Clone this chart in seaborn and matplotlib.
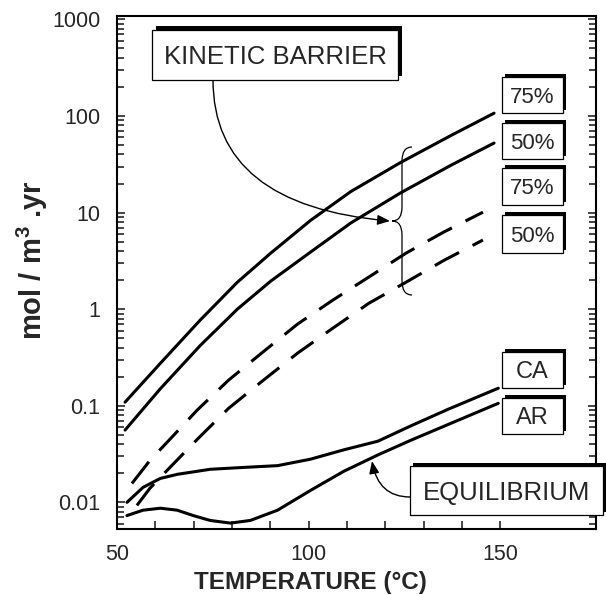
import matplotlib
matplotlib.use("Agg")
import numpy as np
import pandas as pd
import seaborn as sns
import matplotlib.pyplot as plt
from matplotlib.patches import Rectangle, PathPatch
from matplotlib.path import Path
from matplotlib.ticker import FixedLocator, FixedFormatter, LogLocator, NullFormatter

# ---------------- data ----------------
temp_kin_solid = [52.1, 61.3, 71.7, 81.4, 90.1, 100.5, 111.0, 124.0, 137.2, 148.4]
rate_kin_75 = [0.109, 0.275, 0.77, 1.9, 3.8, 8.3, 16.5, 33.0, 63.0, 107.0]
rate_kin_50 = [0.056, 0.15, 0.42, 1.0, 1.95, 3.9, 7.8, 16.0, 31.0, 52.5]

temp_dash_75 = [53.9, 58.6, 63.1, 70.9, 79.1, 88.0, 97.1, 106.3, 115.7, 125.4, 135.3, 145.5]
rate_dash_75 = [0.0157, 0.0272, 0.042, 0.09, 0.184, 0.358, 0.70, 1.24, 2.15, 3.8, 6.3, 10.1]
temp_dash_50 = [55.2, 58.6, 63.1, 71.2, 79.1, 88.2, 97.1, 106.3, 115.7, 125.4, 135.3, 145.5]
rate_dash_50 = [0.0093, 0.014, 0.0215, 0.046, 0.094, 0.184, 0.35, 0.635, 1.15, 1.9, 3.2, 5.2]

temp_ca = [52.6, 56.8, 61.3, 65.7, 74.3, 83.0, 91.9, 100.5, 109.2, 118.1, 126.7, 136.4, 149.5]
rate_ca = [0.0100, 0.0143, 0.0177, 0.0195, 0.022, 0.023, 0.024, 0.028, 0.0350, 0.043, 0.062, 0.092, 0.152]
temp_ar = [52.6, 56.8, 61.3, 65.7, 69.9, 74.3, 79.6, 84.8, 91.9, 100.5, 109.2, 118.1, 126.7, 136.4, 149.5]
rate_ar = [0.0073, 0.0083, 0.0087, 0.0083, 0.0073, 0.0065, 0.0061, 0.0065, 0.0083, 0.0133,
           0.0210, 0.031, 0.044, 0.064, 0.106]

y_tick_values = [0.01, 0.1, 1, 10, 100, 1000]
y_tick_labels = ["0.01", "0.1", "1", "10", "100", "1000"]
x_tick_values = [50, 100, 150]
x_tick_labels = ["50", "100", "150"]
x_minor_values = [60, 70, 80, 90, 110, 120, 130, 140]

series_labels = ["75%", "50%", "75%", "50%"]
eq_labels = ["CA", "AR"]

# ---------------- style ----------------
sns.set_style("white")
plt.rcParams["font.family"] = ["Liberation Sans", "DejaVu Sans"]
plt.rcParams["mathtext.fontset"] = "custom"
plt.rcParams["mathtext.rm"] = "Liberation Sans"
plt.rcParams["mathtext.bf"] = "Liberation Sans:bold"

W, H = 606, 595
fig = plt.figure(figsize=(W / 100, H / 100), dpi=100)
ax = fig.add_axes([117 / W, 1 - 529 / H, (596 - 117) / W, (529 - 16) / H])

solid = "-"
dashed = (0, (9, 5))
series = [
    (temp_kin_solid, rate_kin_75, solid),
    (temp_kin_solid, rate_kin_50, solid),
    (temp_dash_75, rate_dash_75, dashed),
    (temp_dash_50, rate_dash_50, dashed),
    (temp_ca, rate_ca, solid),
    (temp_ar, rate_ar, solid),
]
for t, r, ls in series:
    df = pd.DataFrame({"T": t, "rate": r})
    sns.lineplot(data=df, x="T", y="rate", ax=ax, color="black", lw=2.2,
                 linestyle=ls, estimator=None, legend=False)

ax.set_yscale("log")
ax.set_xlim(50, 175)
ax.set_ylim(0.0053, 1085)

ax.yaxis.set_major_locator(FixedLocator(y_tick_values))
ax.yaxis.set_major_formatter(FixedFormatter(y_tick_labels))
ax.yaxis.set_minor_locator(LogLocator(base=10, subs=np.arange(2, 10)))
ax.yaxis.set_minor_formatter(NullFormatter())
ax.xaxis.set_major_locator(FixedLocator(x_tick_values))
ax.xaxis.set_major_formatter(FixedFormatter(x_tick_labels))
ax.xaxis.set_minor_locator(FixedLocator(x_minor_values))

ax.tick_params(axis="y", which="both", direction="in", left=True, right=True,
               labelsize=15.5, pad=12, width=1.2)
ax.tick_params(axis="y", which="major", length=6)
ax.tick_params(axis="y", which="minor", length=5)
ax.tick_params(axis="x", which="both", direction="in", bottom=True, top=False,
               labelsize=15.5, pad=11, width=1.2, length=6)
for s in ax.spines.values():
    s.set_linewidth(1.5)
    s.set_color("black")

ax.set_xlabel("TEMPERATURE (°C)", fontsize=17.5, fontweight="bold")
ax.xaxis.set_label_coords(0.403, -0.082)
ax.set_ylabel(r"mol / m$^\mathbf{3}$ .yr", fontsize=21, fontweight="bold")
ax.yaxis.set_label_coords(-0.177, 0.524)
ax.yaxis.label.set_va("center")


# ---------------- annotations (figure pixel layout) ----------------
def px(x, y):
    return (x / W, 1 - y / H)


def box(x0, y0, x1, y1, label, fs, d):
    w, h = (x1 - x0) / W, (y1 - y0) / H
    fig.add_artist(Rectangle(px(x0 + d, y1 - d), w, h, transform=fig.transFigure,
                             fc="black", ec="black", lw=0, zorder=5))
    fig.add_artist(Rectangle(px(x0, y1), w, h, transform=fig.transFigure,
                             fc="white", ec="black", lw=0.9, zorder=6))
    cap = 0.716 * fs * 100 / 72
    cx, cy = (x0 + x1) / 2, (y0 + y1) / 2 + cap / 2
    fig.text(*px(cx, cy), label, ha="center", va="baseline", fontsize=fs, zorder=7)


box(152, 30, 398, 80, "KINETIC BARRIER", 18.5, 4)
for (yt, yb), lab in zip([(77, 113), (123, 159), (168, 205), (215, 253)], series_labels):
    box(502, yt, 563, yb, lab, 16, 3)
for (yt, yb), lab in zip([(352, 388), (398, 434)], eq_labels):
    box(502, yt, 563, yb, lab, 17, 3)
box(410, 466, 603, 515, "EQUILIBRIUM", 18.5, 3)

arrow_kw = dict(arrowstyle="-|>,head_length=0.5,head_width=0.2", color="black",
                lw=1.0, shrinkA=0, shrinkB=0, mutation_scale=15)
ax.annotate("", xy=px(390, 221), xycoords="figure fraction",
            xytext=px(213, 80), textcoords="figure fraction",
            arrowprops=dict(connectionstyle="angle3,angleA=90,angleB=-5", **arrow_kw),
            zorder=4)
ax.annotate("", xy=px(372, 461), xycoords="figure fraction",
            xytext=px(410, 497), textcoords="figure fraction",
            arrowprops=dict(connectionstyle="angle3,angleA=180,angleB=100", **arrow_kw),
            zorder=4)

brace_px = [(412, 147), (402, 147), (402, 161), (402, 207), (402, 221), (392, 221),
            (402, 221), (402, 235), (402, 281), (402, 295), (412, 295)]
codes = [Path.MOVETO, Path.CURVE3, Path.CURVE3, Path.LINETO, Path.CURVE3, Path.CURVE3,
         Path.CURVE3, Path.CURVE3, Path.LINETO, Path.CURVE3, Path.CURVE3]
fig.add_artist(PathPatch(Path([px(*v) for v in brace_px], codes), fill=False,
                         lw=0.9, ec="black", transform=fig.transFigure, zorder=4))

fig.savefig("out.png", dpi=100, facecolor="white")
